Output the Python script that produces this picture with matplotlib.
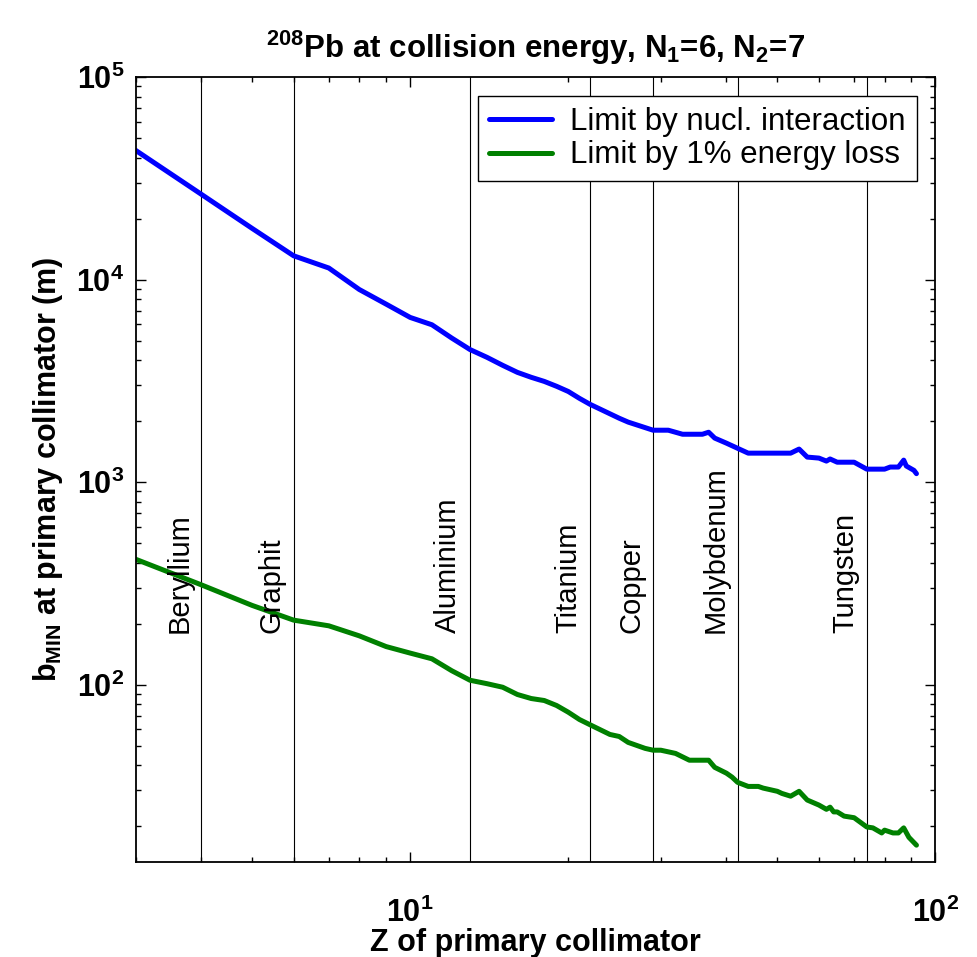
import matplotlib
matplotlib.use("Agg")
import matplotlib.pyplot as plt
from matplotlib.ticker import LogLocator, NullFormatter
from matplotlib.transforms import offset_copy

plt.rcParams['font.family'] = ['Liberation Sans', 'DejaVu Sans']
plt.rcParams['font.weight'] = 'bold'
plt.rcParams['mathtext.default'] = 'regular'

# Z of the primary collimator material and b_MIN (m)
z_nucl = [3, 4, 5, 6, 7, 8, 9, 10, 11, 12, 13, 14, 15, 16, 17, 18, 19, 20, 21, 22,
          25, 26, 29, 31, 33, 36, 37, 38, 40, 42, 44, 53, 55, 57, 60, 62, 63, 65,
          70, 74, 80, 82, 85, 87, 88, 91, 92]
b_nucl = [43500, 26400, 17900, 13100, 11400, 8930, 7560, 6500, 5980, 5140, 4510,
          4130, 3770, 3480, 3290, 3140, 2970, 2800, 2590, 2420,
          2066, 1977, 1803, 1803, 1722, 1722, 1762, 1648, 1556, 1468, 1389, 1389,
          1455, 1328, 1313, 1269, 1300, 1253, 1253, 1158, 1158, 1186, 1186, 1283,
          1200, 1142, 1100]

z_eloss = [3, 4, 5, 6, 7, 8, 9, 10, 11, 12, 13, 14, 15, 16, 17, 18, 19, 20, 21, 22,
           24, 25, 26, 28, 29, 30, 32, 34, 37, 38, 40, 41, 42, 44, 46, 47, 50, 51,
           53, 55, 57, 60, 62, 63, 64, 65, 67, 70, 74, 76, 79, 80, 83, 85, 87, 89, 92]
b_eloss = [416, 311, 246, 208, 195, 174, 154, 143, 134, 117, 105, 101, 97, 89.3,
           85.3, 83.4, 78.8, 73.0, 67.2, 63.3, 56.7, 55.4, 51.8, 48.4, 47.4, 47.4,
           45.7, 42.3, 42.3, 39.0, 36.5, 34.9, 32.9, 31.4, 31.4, 30.8, 29.7, 29.0,
           28.1, 29.7, 26.9, 25.4, 24.2, 24.8, 23.5, 23.5, 22.4, 22.0, 19.8, 19.6,
           18.5, 19.1, 18.5, 18.5, 19.6, 17.6, 16.1]

# collimator materials marked with vertical lines
materials = ['Beryllium', 'Graphit', 'Aluminium', 'Titanium', 'Copper',
             'Molybdenum', 'Tungsten']
z_materials = [4, 6, 13, 22, 29, 42, 74]
label_y = 180

fig = plt.figure(figsize=(9.77, 9.57), dpi=100)
ax = fig.add_axes([0.1387, 0.0993, 0.8188, 0.8202])

ax.plot(z_nucl, b_nucl, color='#0000ff', lw=3.6, label='Limit by nucl. interaction',
        solid_joinstyle='round', solid_capstyle='round')
ax.plot(z_eloss, b_eloss, color='#008000', lw=3.6, label='Limit by 1% energy loss',
        solid_joinstyle='round', solid_capstyle='round')

ax.set_xscale('log')
ax.set_yscale('log')
ax.set_xlim(3, 100)
ax.set_ylim(13.3, 1e5)

for name, z in zip(materials, z_materials):
    ax.axvline(z, color='black', lw=0.8, zorder=1)
    tr = offset_copy(ax.transData, fig=fig, x=-10, y=0, units='points')
    ax.text(z, label_y, name, transform=tr, rotation=90, rotation_mode='anchor',
            ha='left', va='baseline', fontsize=21, fontweight='normal')

ax.xaxis.set_minor_locator(LogLocator(base=10, subs=range(2, 10)))
ax.yaxis.set_minor_locator(LogLocator(base=10, subs=range(2, 10)))
ax.xaxis.set_minor_formatter(NullFormatter())
ax.yaxis.set_minor_formatter(NullFormatter())
ax.tick_params(which='both', direction='in', top=True, right=True, width=1)
ax.tick_params(which='major', length=7, labelsize=22)
ax.tick_params(which='minor', length=3.5)
ax.tick_params(axis='x', which='major', pad=26)
ax.tick_params(axis='y', which='major', pad=8)
for sp in ax.spines.values():
    sp.set_linewidth(1.3)

ax.set_xlabel('Z of primary collimator', fontsize=22, fontweight='bold', labelpad=-1)
ax.set_ylabel('b$_{MIN}$ at primary collimator (m)', fontsize=22, fontweight='bold',
              labelpad=8)
ax.set_title('$^{208}$Pb at collision energy, N$_1$=6, N$_2$=7', fontsize=22.5,
             fontweight='bold', pad=14)

leg = ax.legend(loc='upper right', frameon=True, fancybox=False,
                framealpha=1, edgecolor='black', borderaxespad=0.6, borderpad=0.35,
                handlelength=2.0, handletextpad=0.6, labelspacing=0.12,
                prop={'size': 22.5, 'weight': 'normal'})
leg.get_frame().set_linewidth(1.0)

fig.savefig('out.png', dpi=100)
